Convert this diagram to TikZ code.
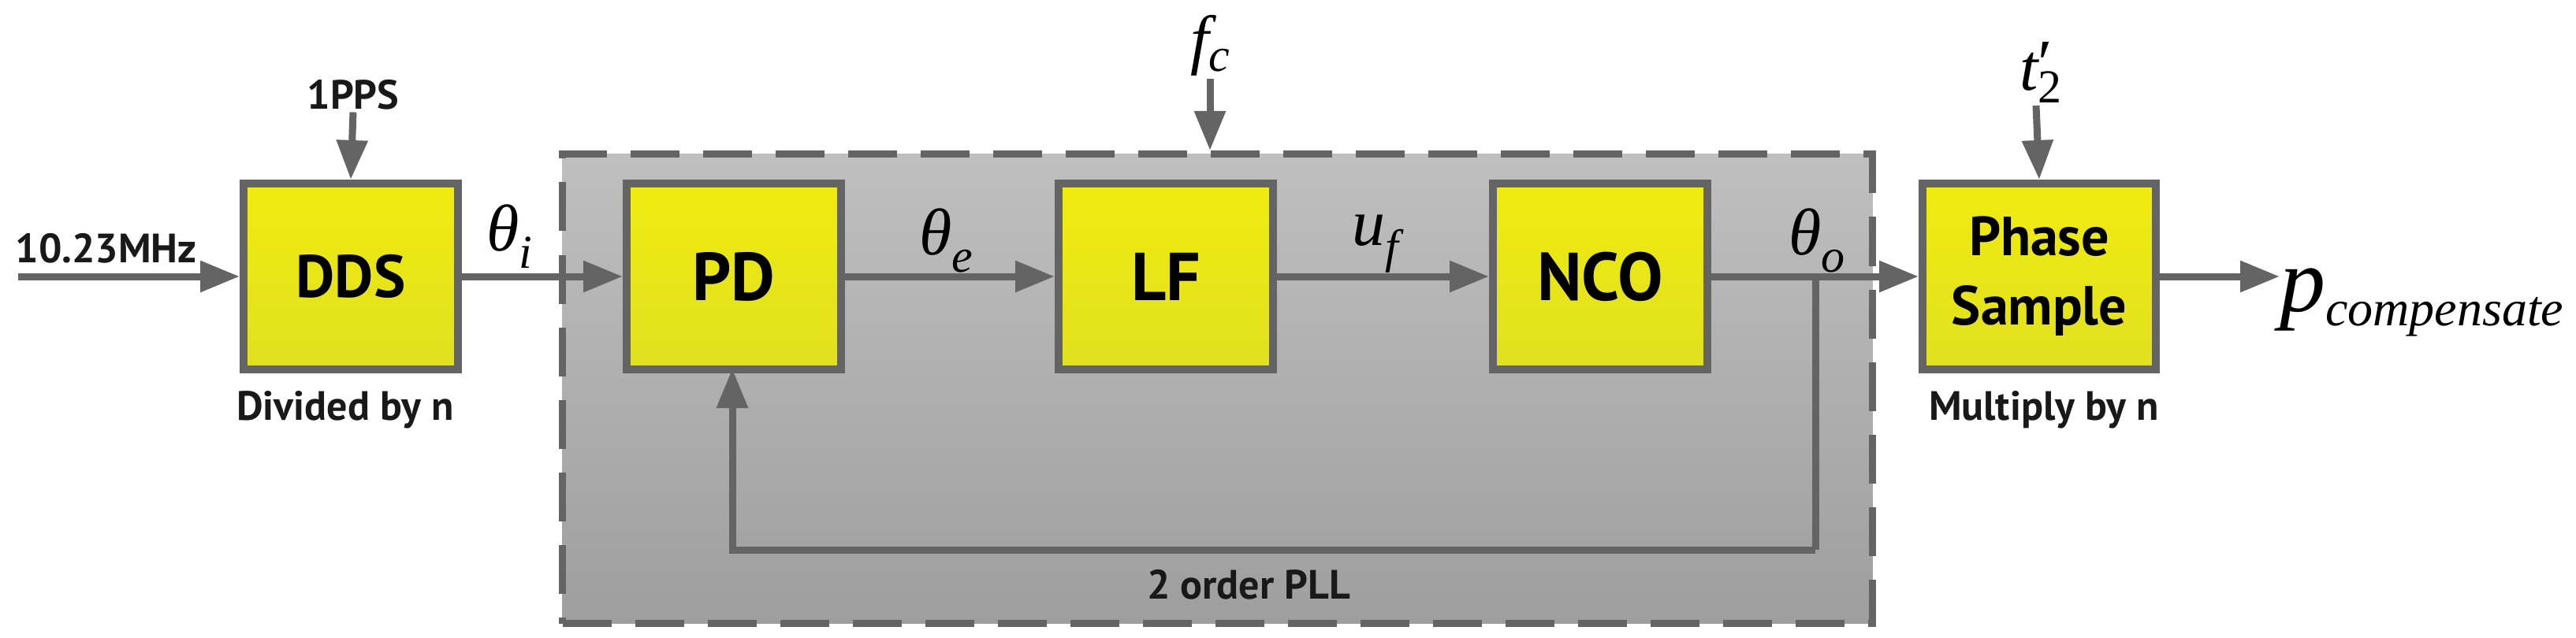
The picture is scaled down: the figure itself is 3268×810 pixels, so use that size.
\documentclass[tikz,border=0pt]{standalone}
\usepackage{fontspec}
\setmainfont{PT Sans}
\newfontfamily\symfont{Liberation Serif}
\usetikzlibrary{arrows.meta}
\definecolor{ln}{HTML}{646464}
\definecolor{yl}{HTML}{F0EB0F}
\definecolor{yd}{HTML}{E0E020}
\begin{document}
\begin{tikzpicture}[x=1pt,y=-1pt,
 blk/.style={draw=ln,line width=10pt,top color=yl,bottom color=yd,minimum width=#1,minimum height=236pt,inner sep=0pt,font=\fontsize{76}{80}\selectfont\bfseries,align=center},
 blk/.default=272pt,
 ar/.style={draw=ln,line width=9pt,-{Triangle[length=50pt,width=38pt]}},
 ln/.style={draw=ln,line width=9pt},
 lab/.style={font=\fontsize{52}{56}\selectfont\bfseries,text=black!90},
 sym/.style={font=\symfont\fontsize{84}{90}\selectfont\itshape}]
\useasboundingbox (0,0) rectangle (3268,810);
\node[draw=ln,line width=9pt,dash pattern=on 62pt off 30pt,top color=black!25,bottom color=black!38,minimum width=1662pt,minimum height=596pt,anchor=north west] (pll) at (709,191) {};
\node[blk] (dds) at (445,351) {DDS};
\node[blk,font=\fontsize{86}{90}\selectfont\bfseries] (pd) at (931,351) {PD};
\node[blk,font=\fontsize{86}{90}\selectfont\bfseries] (lf) at (1479,351) {LF};
\node[blk,font=\fontsize{86}{90}\selectfont\bfseries] (nco) at (2030,351) {NCO};
\node[blk=296pt,font=\fontsize{70}{88}\selectfont\bfseries] (ps) at (2587,351) {Phase\\Sample};
\coordinate (in) at (23,351);
\node[lab,anchor=south west] (f) at (16,338) {10.23MHz};
\node[lab] (pps) at (448,120) {1PPS};
\node[lab] (div) at (438,520) {Divided by n};
\node[lab] (mul) at (2593,520) {Multiply by n};
\node[lab] (pllt) at (1584,742) {2 order PLL};
\node[sym] (fc) at (1535,58) {f\raisebox{-12pt}{\fontsize{60}{60}\selectfont c}};
\node[sym] (t2) at (2583,92) {t\rlap{\raisebox{-16pt}{\fontsize{60}{60}\selectfont\upshape 2}}\raisebox{6pt}{\upshape ′}};
\node[sym] at (646,300) {θ\raisebox{-22pt}{\fontsize{60}{60}\selectfont i}};
\node[sym] at (1200,305) {θ\raisebox{-22pt}{\fontsize{60}{60}\selectfont e}};
\node[sym] at (1745,310) {u\raisebox{-22pt}{\fontsize{60}{60}\selectfont f}};
\node[sym] at (2305,305) {θ\raisebox{-22pt}{\fontsize{60}{60}\selectfont o}};
\node[sym,anchor=base west,inner sep=0pt] (pc) at (2892,395) {\fontsize{116}{116}\selectfont p\raisebox{-18pt}{\fontsize{64}{64}\selectfont compensate}};
\coordinate (tap) at (2303,351);
\coordinate (fb1) at (2303,698);
\coordinate (fb2) at (929,698);
\draw[ar] (in) -- (dds.west);
\draw[ar] (pps.south) -- (dds.north);
\draw[ar] (dds.east) -- (pd.west);
\draw[ar] (pd.east) -- (lf.west);
\draw[ar] (lf.east) -- (nco.west);
\draw[ar] (nco.east) -- (ps.west);
\draw[ar] (ps.east) -- (pc.west |- ps.east);
\draw[ar] (fc.south) -- (pll.north -| fc.south);
\draw[ar] (t2.south) -- (ps.north);
\draw[ln] (tap) -- (fb1);
\draw[ar] (fb1) -- (fb2) -- ([yshift=6pt]pd.south -| fb2);
\end{tikzpicture}
\end{document}
